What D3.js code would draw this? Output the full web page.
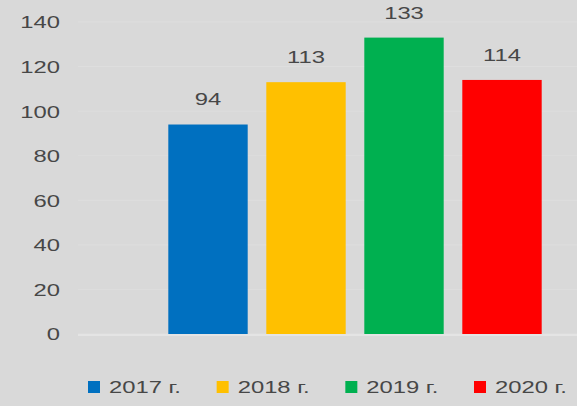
<!DOCTYPE html>
<html><head><meta charset="utf-8">
<script src="https://cdn.jsdelivr.net/npm/d3@7"></script>
<style>
html,body{margin:0;padding:0;background:#d9d9d9;}
svg{display:block;}
text{font-family:"Liberation Sans",Arial,sans-serif;fill:#474747;}
</style></head>
<body>
<svg id="c" width="577" height="406"></svg>
<script>
const categories = ["2017 г.", "2018 г.", "2019 г.", "2020 г."];
const values = [94, 113, 133, 114];
const colors = ["#0070c0", "#ffc000", "#00b050", "#ff0000"];
const yTicks = [0, 20, 40, 60, 80, 100, 120, 140];

const W = 577, H = 406;
const svg = d3.select("#c");
const sx = 1.4; // horizontal stretch of text as in the reference
const fs = 17;

svg.append("rect").attr("width", W).attr("height", H).attr("fill", "#d9d9d9");

const plotLeft = 78, plotRight = 577;
const y = d3.scaleLinear().domain([0, 140]).range([334, 22]);
const x = d3.scaleBand().domain(categories).range([159, 551]).paddingInner(0.19).paddingOuter(0.095);

// gridlines
svg.append("g").selectAll("line").data(yTicks).join("line")
  .attr("x1", plotLeft).attr("x2", plotRight)
  .attr("y1", d => y(d)).attr("y2", d => y(d))
  .attr("stroke", "#dedede").attr("stroke-width", 1);

// y axis labels
const yAxis = d3.axisLeft(y).tickValues(yTicks).tickSize(0).tickPadding(0);
const gy = svg.append("g").call(yAxis);
gy.select(".domain").remove();
gy.selectAll(".tick text").remove();
gy.selectAll(".tick").append("text")
  .attr("transform", `translate(60,0) scale(${sx},1)`)
  .attr("text-anchor", "end").attr("dy", "0.35em")
  .style("font-size", fs + "px").style("font-family", "Liberation Sans, Arial, sans-serif")
  .attr("fill", "#474747")
  .text(d => d);

// bars
svg.append("g").selectAll("rect").data(values).join("rect")
  .attr("x", (d, i) => x(categories[i]))
  .attr("width", x.bandwidth())
  .attr("y", d => y(d))
  .attr("height", d => y(0) - y(d))
  .attr("fill", (d, i) => colors[i]);

// axis baseline
svg.append("line").attr("x1", plotLeft).attr("x2", plotRight)
  .attr("y1", y(0) + 1).attr("y2", y(0) + 1)
  .attr("stroke", "#e4e4e4").attr("stroke-width", 2);

// value labels
svg.append("g").selectAll("text").data(values).join("text")
  .attr("transform", (d, i) => `translate(${x(categories[i]) + x.bandwidth() / 2},${y(d) - 25}) scale(${sx},1)`)
  .attr("text-anchor", "middle").attr("dy", "0.35em")
  .style("font-size", fs + "px")
  .text(d => d);

// legend
const lx = d3.scalePoint().domain(categories).range([88, 474]);
const lg = svg.append("g").selectAll("g").data(categories).join("g")
  .attr("transform", d => `translate(${lx(d)},387)`);
lg.append("rect").attr("x", 0).attr("y", -6).attr("width", 12).attr("height", 12)
  .attr("fill", (d, i) => colors[i]);
lg.append("text").attr("transform", `translate(21,0) scale(${sx},1)`)
  .attr("dy", "0.35em").style("font-size", fs + "px")
  .text(d => d);
</script>
</body></html>
